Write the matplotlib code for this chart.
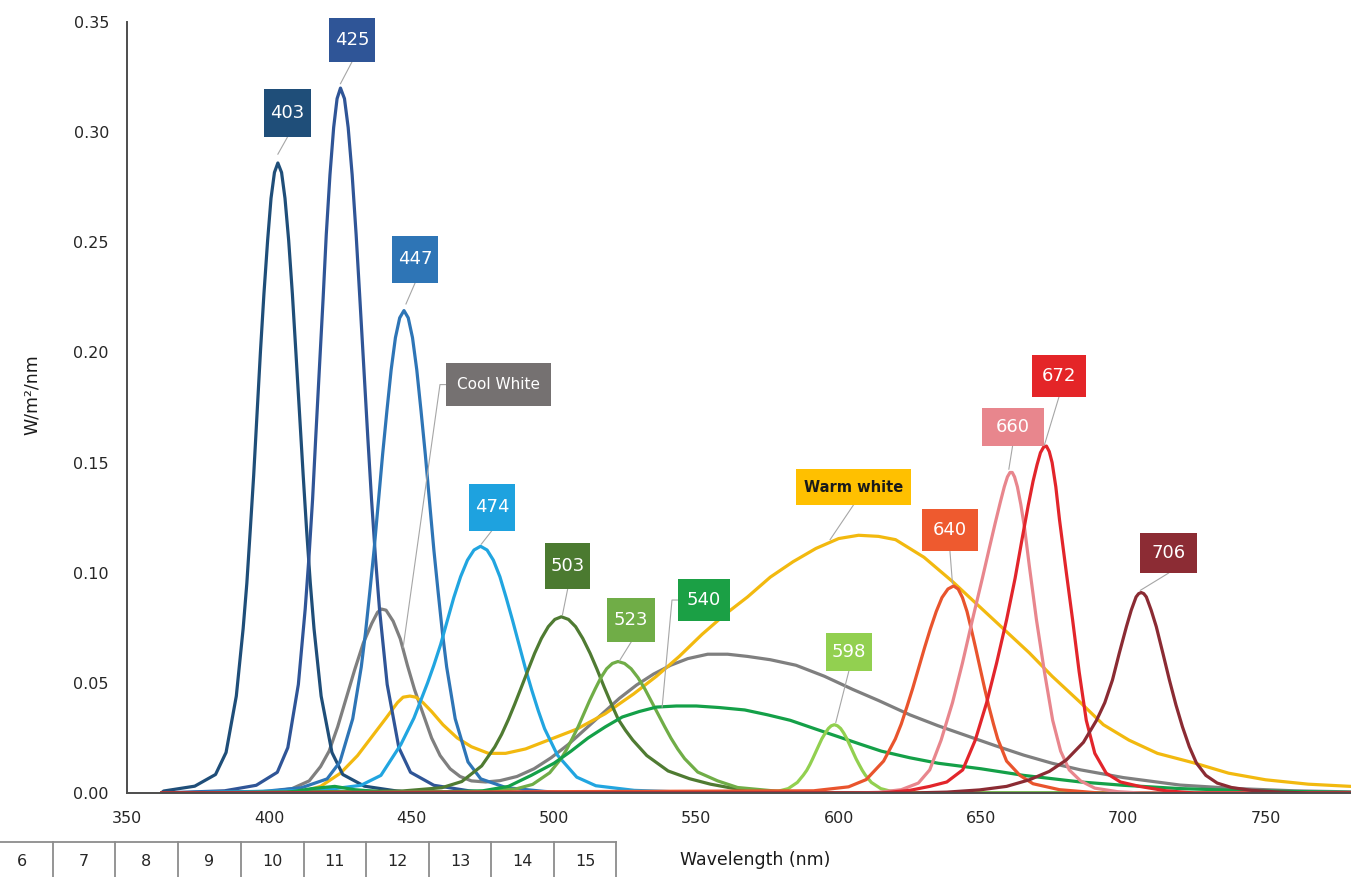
import matplotlib.pyplot as plt
from matplotlib.patches import Rectangle
from matplotlib.lines import Line2D

# spectra: wavelength (nm) and irradiance (W/m2/nm)
wl_403 = [362.9, 373.8, 381.1, 384.8, 388.4, 390.8, 392.1, 393.3, 394.5, 395.7, 396.9, 398.1, 399.4, 400.6, 401.8,
          403, 404.3, 405.5, 406.8, 408.1, 409.3, 410.6, 411.9, 413.1, 414.4, 415.7, 418.2, 422, 425.8, 433.4,
          444.8, 452.4]
val_403 = [0.0009, 0.0031, 0.0084, 0.0184, 0.044, 0.0746, 0.0952, 0.1193, 0.1441, 0.1725, 0.2008, 0.2265, 0.2508,
           0.270, 0.2817, 0.286, 0.2817, 0.270, 0.2508, 0.2265, 0.2008, 0.1725, 0.1441, 0.1193, 0.0952, 0.0746,
           0.044, 0.0184, 0.0084, 0.0031, 0.0009, 0]

wl_425 = [384.3, 395.4, 402.8, 406.5, 410.2, 412.6, 413.9, 415.2, 416.3, 417.6, 418.9, 420.0, 421.3, 422.6, 423.8,
          425, 426.4, 427.7, 429.1, 430.5, 431.8, 433.2, 434.6, 435.9, 437.3, 438.7, 441.4, 445.5, 449.6, 457.8,
          470.1, 478.3]
val_425 = [0.001, 0.0035, 0.0094, 0.0206, 0.0493, 0.0835, 0.1066, 0.1334, 0.1613, 0.193, 0.2246, 0.2534, 0.2806,
           0.3021, 0.3152, 0.32, 0.3152, 0.3021, 0.2806, 0.2534, 0.2246, 0.193, 0.1613, 0.1334, 0.1066, 0.0835,
           0.0493, 0.0206, 0.0094, 0.0035, 0.001, 0]

wl_447 = [397.8, 411.3, 420.3, 424.8, 429.3, 432.3, 433.8, 435.3, 436.8, 438.3, 439.8, 441.3, 442.8, 444.3, 445.8,
          447.3, 448.8, 450.3, 451.8, 453.3, 454.8, 456.3, 457.8, 459.3, 460.8, 462.3, 465.3, 469.8, 474.3, 483.3,
          496.8, 505.8]
val_447 = [0.0007, 0.0024, 0.0064, 0.0141, 0.0337, 0.0572, 0.0729, 0.0913, 0.1104, 0.132, 0.1537, 0.1734, 0.1921,
           0.2067, 0.2157, 0.219, 0.2157, 0.2067, 0.1921, 0.1734, 0.1537, 0.132, 0.1104, 0.0913, 0.0729, 0.0572,
           0.0337, 0.0141, 0.0064, 0.0024, 0.0007, 0]

wl_cool = [400, 408, 414, 418, 421, 424, 427, 430, 433, 436, 438, 439.4, 441, 443.5, 446, 448.5, 451, 454, 457, 460,
           463.5, 467, 471, 476, 481, 487, 493, 499, 505, 511, 517, 523, 529, 535, 541, 547, 554, 561, 568, 576,
           585, 595, 605, 614, 625, 635, 645, 655, 665, 675, 685, 700, 720, 740, 760, 780]
val_cool = [0.0005, 0.002, 0.0055, 0.012, 0.019, 0.03, 0.043, 0.056, 0.068, 0.077, 0.082, 0.0835, 0.083, 0.078, 0.07,
            0.058, 0.047, 0.036, 0.025, 0.017, 0.011, 0.0075, 0.0055, 0.005, 0.0056, 0.0075, 0.011, 0.016, 0.022,
            0.029, 0.036, 0.043, 0.049, 0.054, 0.058, 0.061, 0.063, 0.063, 0.062, 0.0605, 0.058, 0.053, 0.047, 0.042,
            0.0355, 0.0305, 0.026, 0.0215, 0.0172, 0.0135, 0.0105, 0.007, 0.0036, 0.002, 0.001, 0.0005]

wl_474 = [418.2, 432.2, 439.2, 446.2, 450.8, 453.2, 455.6, 457.8, 460.2, 462.6, 464.8, 467.2, 469.6, 471.9, 474.2,
          476.5, 478.7, 481, 483.2, 485.4, 487.7, 490, 492.2, 494.5, 496.7, 501.2, 508, 514.7, 528.2, 548.2, 562]
val_474 = [0.0012, 0.0035, 0.008, 0.022, 0.034, 0.042, 0.05, 0.058, 0.0675, 0.0786, 0.0887, 0.0982, 0.1057, 0.1103,
           0.112, 0.1103, 0.1057, 0.0982, 0.0887, 0.0786, 0.0675, 0.0564, 0.0467, 0.0373, 0.0292, 0.0172, 0.0072,
           0.0033, 0.0012, 0.0003, 0]

wl_503 = [446.6, 460.6, 467.6, 474.6, 479.2, 481.6, 484, 486.2, 488.6, 491, 493.2, 495.6, 498, 500.3, 502.6, 505.1,
          507.6, 510.1, 512.7, 515.1, 517.6, 520.2, 522.6, 525.1, 527.7, 532.6, 540.1, 547.6, 555, 562.6, 575, 592]
val_503 = [0.0009, 0.0024, 0.0052, 0.0123, 0.0209, 0.0266, 0.0334, 0.0403, 0.0482, 0.0562, 0.0634, 0.0702, 0.0755,
           0.0788, 0.080, 0.0788, 0.0755, 0.0702, 0.0634, 0.0562, 0.0482, 0.0403, 0.0334, 0.0285, 0.024, 0.017,
           0.010, 0.0065, 0.004, 0.0022, 0.0008, 0]

wl_523 = [474.5, 486.5, 492.5, 498.5, 502.5, 504.5, 506.5, 508.5, 510.5, 512.5, 514.5, 516.5, 518.5, 520.5, 522.5,
          524.8, 527.1, 529.5, 531.9, 534.1, 536.5, 538.9, 541.1, 543.5, 545.9, 550.5, 557.5, 564.5, 578.5, 599.5]
val_523 = [0.0007, 0.0018, 0.0039, 0.0092, 0.0156, 0.0199, 0.0249, 0.0301, 0.036, 0.0419, 0.0473, 0.0524, 0.0564,
           0.0588, 0.0597, 0.0588, 0.0564, 0.0524, 0.0473, 0.0419, 0.036, 0.0301, 0.0249, 0.0199, 0.0156, 0.0095,
           0.0055, 0.0025, 0.0008, 0]

wl_540 = [405, 415, 423, 430, 440, 460, 475, 484, 492, 500, 506, 512, 518, 524, 530, 536, 543, 550, 558, 567, 575,
          583, 592, 600, 608, 615, 625, 635, 650, 665, 685, 700, 720, 745, 780]
val_540 = [0, 0.002, 0.003, 0.0015, 0.0005, 0.0005, 0.001, 0.003, 0.008, 0.0135, 0.019, 0.025, 0.03, 0.0345, 0.037,
           0.039, 0.0395, 0.0395, 0.0388, 0.0377, 0.0355, 0.033, 0.029, 0.0255, 0.022, 0.019, 0.016, 0.0135, 0.011,
           0.008, 0.005, 0.0035, 0.002, 0.001, 0.0003]

wl_598 = [572.5, 579, 582.3, 585.5, 587.6, 588.8, 589.9, 590.9, 592, 593.1, 594.1, 595.3, 596.4, 597.4, 598.5, 599.6,
          600.7, 601.8, 602.9, 603.9, 605, 606.1, 607.2, 608.3, 609.4, 611.5, 614.8, 618, 624.5, 635]
val_598 = [0.0003, 0.0009, 0.002, 0.0048, 0.0081, 0.0103, 0.0129, 0.0156, 0.0187, 0.0218, 0.0246, 0.0272, 0.0293,
           0.0305, 0.031, 0.0305, 0.0293, 0.0272, 0.0246, 0.0218, 0.0187, 0.0156, 0.0129, 0.0103, 0.0081, 0.0048,
           0.002, 0.0009, 0.0003, 0]

wl_warm = [410, 418, 425, 431, 436, 441, 445, 447, 449.4, 451.5, 454, 457, 461, 466, 471, 477, 483, 490, 498, 508,
           518, 528, 536, 544, 552, 560, 568, 576, 584, 592, 600, 607, 614, 620, 630, 640, 650, 660, 667, 675, 685,
           693, 702, 712, 725, 737, 750, 765, 780]
val_warm = [0, 0.003, 0.009, 0.017, 0.0255, 0.034, 0.041, 0.0435, 0.044, 0.0435, 0.041, 0.037, 0.031, 0.025, 0.021,
            0.018, 0.018, 0.02, 0.024, 0.029, 0.036, 0.045, 0.053, 0.062, 0.072, 0.081, 0.089, 0.098, 0.105, 0.111,
            0.1155, 0.117, 0.1165, 0.115, 0.107, 0.096, 0.084, 0.072, 0.0636, 0.053, 0.041, 0.031, 0.024, 0.018,
            0.0136, 0.009, 0.006, 0.004, 0.003]

wl_640 = [591.2, 603.5, 609.7, 615.8, 619.9, 622, 624, 626, 628.1, 630.2, 632.2, 634.3, 636.3, 638.4, 640.4, 642,
          643.5, 645.1, 646.6, 648.1, 649.7, 651.3, 652.8, 654.4, 655.9, 659, 663.7, 668.3, 677.6, 691.6]
val_640 = [0.001, 0.0028, 0.0061, 0.0145, 0.0245, 0.0313, 0.0392, 0.0474, 0.0567, 0.066, 0.0744, 0.0824, 0.0887,
           0.0926, 0.094, 0.0926, 0.0887, 0.0824, 0.0744, 0.066, 0.0567, 0.0474, 0.0392, 0.0313, 0.0245, 0.0145,
           0.008, 0.0042, 0.0015, 0]

wl_660 = [605, 614, 622, 628, 632, 636, 640, 643.5, 647, 650.5, 653, 655, 656.8, 658.2, 659.3, 660.2, 661, 661.8,
          662.8, 664, 665.3, 667, 669.5, 672.3, 675.2, 678, 681, 685, 690, 698, 706]
val_660 = [0, 0.0003, 0.0015, 0.0045, 0.0105, 0.024, 0.041, 0.059, 0.0786, 0.0975, 0.1115, 0.1225, 0.132, 0.139,
           0.1435, 0.1455, 0.1455, 0.1435, 0.139, 0.131, 0.1205, 0.103, 0.0786, 0.055, 0.033, 0.019, 0.0105, 0.0055,
           0.0022, 0.0006, 0]

wl_672 = [615, 625, 632, 638, 643.6, 648, 652, 655.5, 659, 662, 664.6, 666.6, 668.3, 669.7, 670.9, 672, 673, 674,
          675, 676.3, 677.6, 680, 682.2, 684.5, 687, 690, 694, 699, 705.7, 715, 725]
val_672 = [0, 0.0012, 0.003, 0.005, 0.0105, 0.024, 0.041, 0.059, 0.0786, 0.0975, 0.1164, 0.1305, 0.1415, 0.149,
           0.1545, 0.157, 0.1575, 0.155, 0.15, 0.139, 0.124, 0.1, 0.0786, 0.055, 0.033, 0.018, 0.009, 0.005, 0.003,
           0.001, 0]

wl_706 = [625, 638, 649.5, 659, 667, 674, 680, 686, 690.6, 693.5, 696.2, 698.6, 701.1, 702.8, 704.5, 705.4, 706.3,
          707.2, 708.1, 709.8, 711.6, 714, 716.2, 718.5, 720.8, 723.2, 725.7, 729, 733, 738, 745, 755, 765]
val_706 = [0, 0.0004, 0.0014, 0.003, 0.006, 0.0098, 0.015, 0.023, 0.033, 0.041, 0.0513, 0.0635, 0.0755, 0.083, 0.089,
           0.0905, 0.091, 0.0905, 0.089, 0.083, 0.0755, 0.063, 0.0513, 0.040, 0.03, 0.021, 0.0136, 0.008, 0.0045,
           0.0025, 0.0012, 0.0004, 0]

names = ["Cool White", "Warm white", "403", "425", "447", "474", "503", "523", "540", "598", "640", "660", "672", "706"]
wls = [wl_cool, wl_warm, wl_403, wl_425, wl_447, wl_474, wl_503, wl_523, wl_540, wl_598, wl_640, wl_660, wl_672, wl_706]
vals = [val_cool, val_warm, val_403, val_425, val_447, val_474, val_503, val_523, val_540, val_598, val_640, val_660,
        val_672, val_706]
line_colors = ["#7f7f7f", "#f2b90f", "#1f4e79", "#2f5597", "#2e75b6", "#21a5e0", "#4f7b32", "#70ad47", "#14a048",
               "#92d050", "#e9542d", "#e8868d", "#e2252b", "#8b2b33"]
box_colors = ["#757171", "#ffc000", "#1f4e79", "#2f5597", "#2e75b6", "#1ea2df", "#4b7a30", "#70ad47", "#1ba045",
              "#92d050", "#ee5a2f", "#e8868d", "#e42528", "#8c2c34"]

# label layout: box centre (data), box size (px), leader target (data), leader start side
box_xy = [(480.5, 0.1854), (605.2, 0.1389), (406.3, 0.3085), (429.0, 0.3418), (451.2, 0.2422), (478.2, 0.1298),
          (504.8, 0.1030), (527.1, 0.0785), (552.7, 0.0876), (603.6, 0.0640), (639.1, 0.1194), (661.1, 0.1661),
          (677.4, 0.1893), (715.9, 0.1089)]
box_wh = [(105, 43), (115, 36), (47, 48), (46, 44), (46, 47), (46, 47), (45, 46), (48, 44), (52, 42), (46, 38),
          (56, 42), (62, 38), (54, 42), (57, 40)]
targets = [(447, 0.066), (597, 0.115), (403, 0.29), (425, 0.322), (448, 0.222), (474.5, 0.113), (503, 0.081),
           (523, 0.06), (538, 0.039), (599, 0.032), (640, 0.095), (659.8, 0.147), (672.3, 0.158), (706, 0.092)]
sides = ["left", "bottom", "bottom", "bottom", "bottom", "bottom", "bottom", "bottom", "left", "bottom", "bottom",
         "bottom", "bottom", "bottom"]

W, H = 1351, 877
fig = plt.figure(figsize=(W / 100, H / 100), dpi=100)
ax = fig.add_axes([127 / W, 84 / H, 1224 / W, 771 / H])

x0, x1, y1 = 350, 780, 0.35
for wl, v, c in zip(wls, vals, line_colors):
    xs = list(wl)
    ys = list(v)
    if xs[0] > 362:
        xs = [362] + xs
        ys = [0] + ys
    if xs[-1] < x1:
        xs = xs + [x1]
        ys = ys + [0]
    ax.plot(xs, ys, color=c, lw=2.3, solid_capstyle="round", solid_joinstyle="round")

ax.set_xlim(x0, x1)
ax.set_ylim(0, y1)
ax.set_xticks(range(350, 751, 50))
ax.set_yticks([i * 0.05 for i in range(8)])
ax.set_yticklabels([f"{i * 0.05:.2f}" for i in range(8)])
ax.tick_params(length=0, labelsize=11.5, colors="#262626", pad=13)
for s in ["top", "right"]:
    ax.spines[s].set_visible(False)
for s in ["left", "bottom"]:
    ax.spines[s].set_color("#4d4d4d")
    ax.spines[s].set_linewidth(1.4)

px_x = 1224 / (x1 - x0)
px_y = 771 / y1

for i, name in enumerate(names):
    cx, cy = box_xy[i]
    bw, bh = box_wh[i]
    dx = bw / 2 / px_x
    dy = bh / 2 / px_y
    ax.add_patch(Rectangle((cx - dx, cy - dy), 2 * dx, 2 * dy, facecolor=box_colors[i], edgecolor="none",
                           zorder=6, clip_on=False))
    if name == "Warm white":
        ax.text(cx, cy, name, ha="center", va="center", fontsize=10.5, fontweight="bold", color="#1a1a1a", zorder=7)
    elif name == "Cool White":
        ax.text(cx, cy, name, ha="center", va="center", fontsize=11, color="white", zorder=7)
    else:
        ax.text(cx, cy, name, ha="center", va="center", fontsize=13, color="white", zorder=7)
    tx, ty = targets[i]
    if sides[i] == "left":
        ex = cx - dx - 6 / px_x
        ax.plot([cx - dx, ex, tx], [cy, cy, ty], color="#a6a6a6", lw=0.8, zorder=5)
    else:
        ax.plot([cx, tx], [cy - dy, ty], color="#a6a6a6", lw=0.8, zorder=5)

fig.text(32 / W, 1 - 395 / H, "W/m\u00b2/nm", rotation=90, ha="center", va="center", fontsize=12.5, color="#1a1a1a")
fig.text(680 / W, 1 - 860 / H, "Wavelength (nm)", ha="left", va="center", fontsize=12.5, color="#1a1a1a")

# cropped table strip along the bottom edge
cells = ["6", "7", "8", "9", "10", "11", "12", "13", "14", "15"]
edges = [-10, 53, 115, 178, 241, 304, 366, 429, 491, 554, 616]
fig.add_artist(Line2D([0, 616 / W], [1 - 842 / H, 1 - 842 / H], color="#8c8c8c", lw=1.3))
for e in edges[1:]:
    fig.add_artist(Line2D([e / W, e / W], [1 - 842 / H, 0], color="#8c8c8c", lw=1.3))
for k, t in enumerate(cells):
    xc = (edges[k] + edges[k + 1]) / 2
    fig.text(xc / W, 1 - 861 / H, t, ha="center", va="center", fontsize=11.5, color="#262626")

fig.savefig("out.png", dpi=100)
